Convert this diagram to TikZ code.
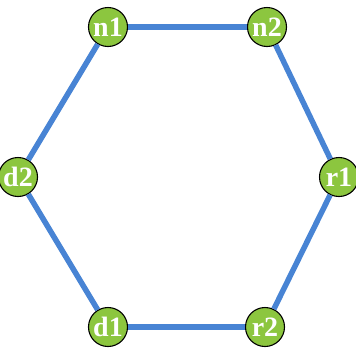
\documentclass[tikz,border=0pt]{standalone}
\usepackage{fontspec}
\setmainfont{Liberation Serif}
\definecolor{edgeblue}{RGB}{72,132,212}
\definecolor{nodegreen}{RGB}{140,198,63}
\tikzset{
  vert/.style={circle, draw=black, line width=1.1pt, fill=nodegreen, minimum size=39pt, inner sep=0pt,
    text=white, font=\fontsize{28}{28}\selectfont\bfseries},
  link/.style={draw=edgeblue, line width=5.5pt}
}
\begin{document}
\begin{tikzpicture}[x=1pt,y=-1pt]
\useasboundingbox (0,0) rectangle (356,349);
\node[vert] (n1) at (108,27) {n1};
\node[vert] (n2) at (267,27) {n2};
\node[vert] (r1) at (339,177) {r1};
\node[vert] (r2) at (265,327) {r2};
\node[vert] (d1) at (108,327) {d1};
\node[vert] (d2) at (18,177) {d2};
\draw[link] (n1) -- (n2);
\draw[link] (n2) -- (r1);
\draw[link] (r1) -- (r2);
\draw[link] (r2) -- (d1);
\draw[link] (d1) -- (d2);
\draw[link] (d2) -- (n1);
\end{tikzpicture}
\end{document}
